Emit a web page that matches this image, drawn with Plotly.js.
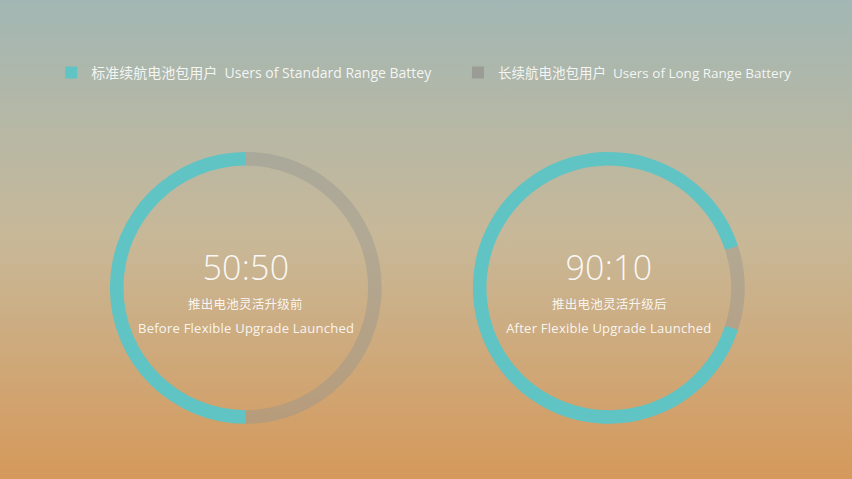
<!DOCTYPE html>
<html>
<head>
<meta charset="utf-8">
<script src="https://cdn.plot.ly/plotly-3.0.1.min.js"></script>
<style>
  html, body { margin: 0; padding: 0; }
  #chart {
    width: 852px;
    height: 479px;
    background: linear-gradient(#a2b7b4 0%, #c8b898 50%, #d5995b 100%);
  }
  /* the original font is wider, open up the tracking a bit */
  #chart .annotation-text { letter-spacing: 0.25px; }
</style>
</head>
<body>
<div id="chart"></div>
<script>
// Share of users by battery type, before and after the flexible upgrade
var labels = ['标准续航电池包用户  Users of Standard Range Battey', '长续航电池包用户  Users of Long Range Battery'];
var beforeValues = [50, 50];
var afterValues = [90, 10];
var ratioLabels = ['50:50', '90:10'];
var captionsCn = ['推出电池灵活升级前', '推出电池灵活升级后'];
var captionsEn = ['Before Flexible Upgrade Launched', 'After Flexible Upgrade Launched'];

var colors = ['#5fc4c3', 'rgba(150,150,145,0.45)'];
var legendColors = ['#5fc4c3', '#9a9c95'];
var font = '"Open Sans", "Noto Sans CJK SC", sans-serif';

function ring(values, domainX, rotation) {
    return {
        type: 'pie',
        labels: labels,
        values: values,
        hole: 0.9,
        sort: false,
        direction: 'clockwise',
        rotation: rotation,
        textinfo: 'none',
        hoverinfo: 'skip',
        showlegend: false,
        marker: { colors: colors, line: { width: 0 } },
        domain: { x: domainX, y: [0.115, 0.683] }
    };
}

//Legend entries, one legend each so they can sit far apart on one row
function legendEntry(i) {
    return {
        type: 'scatter',
        mode: 'markers',
        x: [null],
        y: [null],
        name: labels[i],
        legend: i === 0 ? 'legend' : 'legend2',
        marker: { symbol: 'square', size: 12, color: legendColors[i] }
    };
}

var data = [
    ring(beforeValues, [0.129, 0.448], 180),
    ring(afterValues, [0.555, 0.874], 108),
    legendEntry(0),
    legendEntry(1)
];

//Text in the middle of each ring
var annotations = [];
var centers = [0.2887, 0.7148];
centers.forEach(function(cx, i) {
    annotations.push({ x: cx, y: 0.4426, xref: 'paper', yref: 'paper', showarrow: false,
        xanchor: 'center', yanchor: 'middle',
        text: ratioLabels[i], font: { family: font, size: 34, weight: 300, color: 'rgba(255,255,255,0.92)' } });
    annotations.push({ x: cx, y: 0.3633, xref: 'paper', yref: 'paper', showarrow: false,
        xanchor: 'center', yanchor: 'middle',
        text: captionsCn[i], font: { family: font, size: 12.5, color: 'rgba(255,255,255,0.9)' } });
    annotations.push({ x: cx, y: 0.3152, xref: 'paper', yref: 'paper', showarrow: false,
        xanchor: 'center', yanchor: 'middle',
        text: captionsEn[i], font: { family: font, size: 13, color: 'rgba(255,255,255,0.9)' } });
});

function legendStyle(x, size) {
    return {
        orientation: 'h',
        x: x,
        xanchor: 'left',
        y: 0.848,
        yanchor: 'middle',
        bgcolor: 'rgba(0,0,0,0)',
        font: { family: font, size: size, color: 'rgba(255,255,255,0.88)' }
    };
}

var layout = {
    width: 852,
    height: 479,
    margin: { l: 0, r: 0, t: 0, b: 0 },
    paper_bgcolor: 'rgba(0,0,0,0)',
    plot_bgcolor: 'rgba(0,0,0,0)',
    showlegend: true,
    xaxis: { visible: false },
    yaxis: { visible: false },
    legend: legendStyle(0.0602, 14),
    legend2: legendStyle(0.5375, 13.5),
    annotations: annotations
};

Plotly.newPlot('chart', data, layout, { displayModeBar: false, staticPlot: true });
</script>
</body>
</html>
